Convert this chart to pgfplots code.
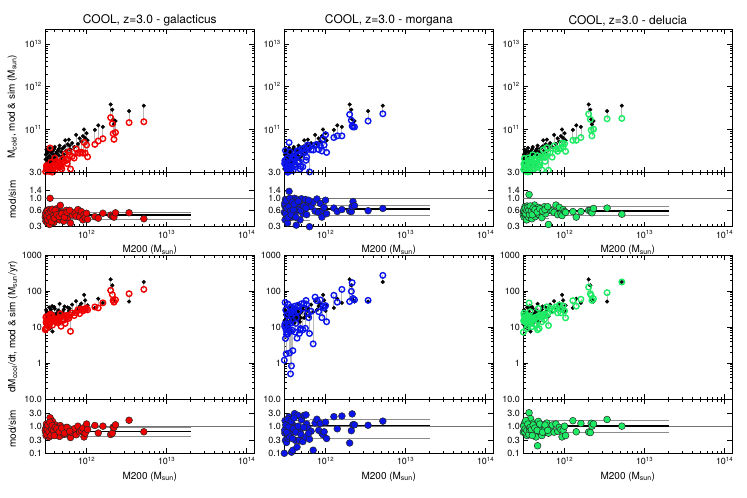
\documentclass[border=0pt]{standalone}
\usepackage{fontspec}
\setmainfont{TeX Gyre Heros}
\usepackage{pgfplots}
\usepackage{pgfplotstable}
\pgfplotsset{compat=1.18}

\definecolor{galred}{RGB}{240,0,0}
\definecolor{morblue}{RGB}{10,20,235}
\definecolor{delgreen}{RGB}{30,235,100}
\definecolor{linkgrey}{RGB}{185,185,185}

% halo table: x = M200, st/sb = simulation (top: cold mass, bottom: cooling rate),
% gt/mt/dt and gb/mb/db = galacticus/morgana/delucia, r.. = mod/sim
\pgfplotstableread{
x st gt mt dt rg rm rd sb gb mb db rgb rmb rdb
3.05e11 1.2e10 0.54e10 0.66e10 0.60e10 0.45 0.55 0.50 12 8.4 1.2 7.2 0.70 0.10 0.60
3.10e11 2.6e10 0.99e10 1.87e10 1.56e10 0.38 0.72 0.60 22 18.7 12.1 24.2 0.85 0.55 1.1
3.12e11 1.6e10 0.88e10 0.64e10 0.72e10 0.55 0.40 0.45 30 13.5 48 21 0.45 1.6 0.70
3.15e11 3.4e10 1.43e10 3.23e10 2.11e10 0.42 0.95 0.62 16 19.2 4.8 14.4 1.2 0.30 0.90
3.20e11 1.9e10 1.14e10 0.95e10 1.33e10 0.60 0.50 0.70 10 9.5 8.5 14 0.95 0.85 1.4
3.25e11 2.2e10 0.77e10 1.32e10 1.06e10 0.35 0.60 0.48 25 13.8 6.3 13.8 0.55 0.25 0.55
3.30e11 1.4e10 0.70e10 1.19e10 0.77e10 0.50 0.85 0.55 18 18 21.6 14.4 1.0 1.2 0.80
3.35e11 2.9e10 1.33e10 1.02e10 1.16e10 0.46 0.35 0.40 14 10.5 6.3 9.1 0.75 0.45 0.65
3.40e11 1.7e10 1.05e10 1.16e10 1.22e10 0.62 0.68 0.72 35 14 12.3 15.8 0.40 0.35 0.45
3.45e11 2.4e10 0.79e10 1.32e10 1.25e10 0.33 0.55 0.52 20 13 15 19 0.65 0.75 0.95
3.50e11 3.7e10 3.7e10 4.96e10 2.15e10 1.00 1.34 0.58 11 22.6 24.2 16.5 2.05 2.2 1.5
3.55e11 2.0e10 0.96e10 1.24e10 0.90e10 0.48 0.62 0.45 27 21.6 1.9 20.3 0.80 0.07 0.75
3.60e11 1.3e10 0.52e10 0.98e10 1.52e10 0.40 0.75 1.17 15 19.5 7.5 46.5 1.3 0.50 3.1
3.70e11 2.7e10 1.40e10 1.22e10 1.57e10 0.52 0.45 0.58 38 20.9 36.1 26.6 0.55 0.95 0.70
3.75e11 3.1e10 1.33e10 1.80e10 1.95e10 0.43 0.58 0.63 7.5 11.3 0.83 14.3 1.5 0.11 1.9
3.80e11 1.8e10 1.04e10 1.62e10 0.90e10 0.58 0.90 0.50 21 14.7 27.3 17.9 0.70 1.3 0.85
3.90e11 2.3e10 0.83e10 1.10e10 0.97e10 0.36 0.48 0.42 17 15.3 2.2 10.2 0.90 0.13 0.60
4.00e11 3.9e10 2.15e10 2.34e10 2.57e10 0.55 0.60 0.66 32 16 24 17.6 0.50 0.75 0.55
4.10e11 2.1e10 0.99e10 2.10e10 1.16e10 0.47 1.00 0.55 13 14.3 37.7 16.9 1.1 2.9 1.3
4.20e11 2.8e10 1.79e10 1.54e10 2.10e10 0.64 0.55 0.75 24 14.4 7.2 12 0.60 0.30 0.50
4.30e11 1.6e10 0.80e10 0.51e10 0.74e10 0.50 0.32 0.46 19 16.2 18.1 18.1 0.85 0.95 0.95
4.40e11 3.3e10 1.39e10 3.14e10 1.98e10 0.42 0.95 0.60 29 13.1 4.9 11.6 0.45 0.17 0.40
4.50e11 2.5e10 1.33e10 1.75e10 1.30e10 0.53 0.70 0.52 16 15.2 40 19.2 0.95 2.5 1.2
4.60e11 4.2e10 1.68e10 2.60e10 2.44e10 0.40 0.62 0.58 44 18.5 27.3 8.4 0.42 0.62 0.19
4.70e11 2.0e10 1.48e10 1.76e10 1.36e10 0.74 0.88 0.68 22 23.1 6.6 33 1.05 0.30 1.5
4.80e11 3.0e10 1.35e10 1.20e10 1.50e10 0.45 0.40 0.50 14 10.5 8.4 9.1 0.75 0.60 0.65
5.00e11 3.6e10 2.02e10 3.53e10 2.23e10 0.56 0.98 0.62 26 15.6 44.2 20.8 0.60 1.7 0.80
5.20e11 2.6e10 0.99e10 1.35e10 1.14e10 0.38 0.52 0.44 31 15.5 8.4 14 0.50 0.27 0.45
5.40e11 5.6e10 2.69e10 3.58e10 3.36e10 0.48 0.64 0.60 18 12.6 45 19.8 0.70 2.5 1.1
5.60e11 3.2e10 1.92e10 3.04e10 2.24e10 0.60 0.95 0.70 23 20.7 9.2 16.1 0.90 0.40 0.70
5.80e11 4.5e10 1.98e10 2.25e10 2.34e10 0.44 0.50 0.52 35 19.3 42 21 0.55 1.2 0.60
6.00e11 5.8e10 3.02e10 4.35e10 3.77e10 0.52 0.75 0.65 28 17.4 23.8 36.4 0.62 0.85 1.3
6.30e11 3.4e10 1.19e10 1.02e10 1.12e10 0.35 0.30 0.33 20 7.6 6.6 11 0.38 0.33 0.55
6.60e11 4.8e10 2.35e10 3.36e10 2.88e10 0.49 0.70 0.60 42 24.4 27.3 33.6 0.58 0.65 0.80
7.00e11 3.9e10 2.15e10 3.32e10 2.26e10 0.55 0.85 0.58 26 20.8 3.4 28.6 0.80 0.13 1.1
7.40e11 7.5e10 3.53e10 4.35e10 4.13e10 0.47 0.58 0.55 52 25 67.6 31.2 0.48 1.3 0.60
7.80e11 4.6e10 2.85e10 4.46e10 3.45e10 0.62 0.97 0.75 30 30 54 36 1.0 1.8 1.2
8.20e11 6.2e10 2.79e10 3.41e10 3.10e10 0.45 0.55 0.50 38 23.6 26.6 24.7 0.62 0.70 0.65
8.60e11 5.2e10 2.96e10 4.16e10 3.54e10 0.57 0.80 0.68 45 31.5 56.3 40.5 0.70 1.25 0.90
9.00e11 7.0e10 2.80e10 3.15e10 3.64e10 0.40 0.45 0.52 33 28.1 18.2 24.8 0.85 0.55 0.75
9.30e11 10.0e10 5.0e10 6.0e10 4.8e10 0.50 0.60 0.48 78 31.2 37.4 31.2 0.40 0.48 0.40
9.60e11 6.4e10 2.82e10 4.35e10 3.97e10 0.44 0.68 0.62 55 30.3 34.1 38.5 0.55 0.62 0.70
1.00e12 8.2e10 4.35e10 7.54e10 4.67e10 0.53 0.92 0.57 28 33.6 39.2 28 1.2 1.4 1.0
1.03e12 5.6e10 2.30e10 2.91e10 3.08e10 0.41 0.52 0.55 40 30 14 18 0.75 0.35 0.45
1.27e12 9.8e10 4.5e10 6.5e10 5.6e10 0.46 0.66 0.57 34 36 76 54 1.06 2.24 1.59
1.40e12 12.5e10 5.4e10 7.1e10 5.6e10 0.43 0.57 0.45 61 34 49 38 0.56 0.80 0.62
1.60e12 11.5e10 6.1e10 7.1e10 6.5e10 0.53 0.62 0.57 47 47 111 59 1.0 2.36 1.26
2.00e12 38.5e10 19e10 22.5e10 23e10 0.49 0.58 0.60 211 104 51 128 0.49 0.24 0.61
2.10e12 29e10 13.7e10 16.4e10 17.3e10 0.47 0.57 0.60 144 79 98 84 0.55 0.68 0.58
2.15e12 17.3e10 8.0e10 12.1e10 9.7e10 0.46 0.70 0.56 60 55 170 76 0.92 2.83 1.27
2.20e12 13.2e10 5.9e10 11.5e10 7.1e10 0.45 0.87 0.54 55 49 62 55 0.89 1.13 1.0
2.30e12 15.8e10 8.5e10 11.5e10 10.2e10 0.54 0.73 0.65 51 57 57 61 1.12 1.12 1.2
3.40e12 27e10 14.5e10 15.8e10 17.8e10 0.54 0.59 0.66 51 84 55 90 1.65 1.08 1.76
5.20e12 36e10 15.2e10 23.3e10 18.2e10 0.42 0.65 0.51 178 111 272 178 0.62 1.53 1.0
3.08e11 2.0e10 1.04e10 1.6e10 1.16e10 0.52 0.80 0.58 15 9.0 10.5 15 0.60 0.70 1.0
3.18e11 2.8e10 1.32e10 1.46e10 1.54e10 0.47 0.52 0.55 27 13.5 29.7 16.7 0.50 1.1 0.62
3.22e11 1.1e10 0.64e10 0.99e10 0.72e10 0.58 0.90 0.65 20 15 1.8 16 0.75 0.09 0.80
3.28e11 3.2e10 1.28e10 2.11e10 1.66e10 0.40 0.66 0.52 12 13.2 7.2 19.2 1.1 0.60 1.6
3.38e11 2.3e10 1.24e10 1.01e10 1.38e10 0.54 0.44 0.60 24 14.9 43.2 16.8 0.62 1.8 0.70
3.48e11 1.5e10 0.66e10 1.05e10 1.02e10 0.44 0.70 0.68 9 12.6 8.6 10.8 1.4 0.95 1.2
3.58e11 3.0e10 1.71e10 3.0e10 1.8e10 0.57 1.00 0.60 31 14 12.4 15.5 0.45 0.40 0.50
3.65e11 2.1e10 0.78e10 1.22e10 1.05e10 0.37 0.58 0.50 19 15.2 0.5 14.3 0.80 0.026 0.75
3.72e11 1.6e10 1.01e10 0.8e10 1.15e10 0.63 0.50 0.72 14 14.7 21 12.6 1.05 1.5 0.90
3.85e11 2.6e10 1.25e10 2.21e10 1.51e10 0.48 0.85 0.58 23 16.1 8.1 17.3 0.70 0.35 0.75
3.95e11 3.5e10 1.5e10 2.17e10 1.75e10 0.43 0.62 0.50 36 16.2 28.8 16.2 0.45 0.80 0.45
4.05e11 1.9e10 1.14e10 1.48e10 1.25e10 0.60 0.78 0.66 16 14.4 32 17.6 0.90 2.0 1.1
4.25e11 3.0e10 1.5e10 1.35e10 1.86e10 0.50 0.45 0.62 21 16.8 12.6 17.9 0.80 0.60 0.85
4.55e11 3.6e10 1.66e10 3.17e10 2.02e10 0.46 0.88 0.56 27 16.7 27 18.9 0.62 1.0 0.70
4.90e11 2.3e10 1.2e10 1.38e10 1.47e10 0.52 0.60 0.64 18 15.3 9 21.6 0.85 0.50 1.2
5.30e11 4.0e10 1.8e10 2.88e10 2.32e10 0.45 0.72 0.58 37 20.4 33.3 22.2 0.55 0.90 0.60
5.70e11 2.9e10 1.6e10 1.91e10 1.8e10 0.55 0.66 0.62 21 18.9 54.6 23.1 0.90 2.6 1.1
6.15e11 4.2e10 2.52e10 3.86e10 2.94e10 0.60 0.92 0.70 33 21.5 18.2 23.1 0.65 0.55 0.70
}\halos

% options shared by all twelve panels
\pgfplotsset{
  scale only axis, width=209bp,
  xmin=3.05e11, xmax=1.25e14,
  xtick={1e12,1e13,1e14},
  minor xtick={4e11,5e11,6e11,7e11,8e11,9e11,2e12,3e12,4e12,5e12,6e12,7e12,8e12,9e12,
               2e13,3e13,4e13,5e13,6e13,7e13,8e13,9e13},
  tick align=inside,
  major tick length=5bp, minor tick length=2.5bp,
  every tick/.append style={black, line width=0.6bp},
  axis line style={black, line width=0.8bp},
  tick label style={font=\fontsize{9}{10}\selectfont},
  label style={font=\fontsize{10}{12}\selectfont},
  title style={font=\fontsize{12}{14}\selectfont, yshift=-6bp},
}

% grey line from the simulated value to the model value of every halo
\newcommand\linksimmod[2]{%
  \pgfplotstablegetrowsof{\halos}%
  \pgfmathtruncatemacro\cpLast{\pgfplotsretval-1}%
  \pgfplotsforeachungrouped \cpRow in {0,...,\cpLast}{%
    \pgfplotstablegetelem{\cpRow}{x}\of\halos \let\cpX\pgfplotsretval
    \pgfplotstablegetelem{\cpRow}{#1}\of\halos \let\cpS\pgfplotsretval
    \pgfplotstablegetelem{\cpRow}{#2}\of\halos \let\cpM\pgfplotsretval
    \edef\cpCmd{\noexpand\addplot[linkgrey, line width=0.8bp] coordinates {(\cpX,\cpS) (\cpX,\cpM)};}%
    \cpCmd
  }%
}
% unity line, median (thick) and percentile lines in two mass bins
\newcommand\binlines[6]{%
  \addplot[black!55, line width=0.7bp] coordinates {(3.05e11,1) (1.25e14,1)};
  \addplot[black!45, line width=0.8bp] coordinates {(3.05e11,#2) (6.3e11,#2)};
  \addplot[black!45, line width=0.8bp] coordinates {(3.05e11,#3) (6.3e11,#3)};
  \addplot[black!45, line width=0.8bp] coordinates {(6.3e11,#5) (2e13,#5)};
  \addplot[black!45, line width=0.8bp] coordinates {(6.3e11,#6) (2e13,#6)};
  \addplot[black, line width=1.6bp] coordinates {(3.05e11,#1) (6.3e11,#1)};
  \addplot[black, line width=1.6bp] coordinates {(6.3e11,#4) (2e13,#4)};
}
\newcommand\simdots[1]{\addplot[only marks, mark=*, mark size=1.9bp, mark options={fill=black, draw=black, line width=0.3bp}] table[x=x, y=#1]{\halos};}
\newcommand\modrings[2]{\addplot[only marks, mark=o, mark size=2.8bp, mark options={draw=#2, line width=1.4bp}] table[x=x, y=#1]{\halos};}
\newcommand\ratiodots[2]{\addplot[only marks, mark=*, mark size=3.4bp, mark options={fill=#2, draw=black!85, line width=0.5bp}] table[x=x, y=#1]{\halos};}

\begin{document}
\begin{tikzpicture}
\path[use as bounding box] (0,0) rectangle (747bp,-498bp);

% ---------------- top row: cold gas mass ----------------
\begin{axis}[at={(45.3bp,-29.3bp)}, anchor=north west, height=143bp, xmode=log,
  ymode=log, ymin=1e10, ymax=2.2e13, ytick={1e11,1e12,1e13},
  yticklabels={10\textsuperscript{11},10\textsuperscript{12},10\textsuperscript{13}},
  minor ytick={2e10,3e10,4e10,5e10,6e10,7e10,8e10,9e10,2e11,3e11,4e11,5e11,6e11,7e11,8e11,9e11,2e12,3e12,4e12,5e12,6e12,7e12,8e12,9e12,2e13},
  xticklabels={}, title={COOL, z=3.0 - galacticus},
  ylabel={M\textsubscript{cold}, mod \& sim (M\textsubscript{sun})},
  ylabel style={at={(axis description cs:-0.158,0.46)}, anchor=center}]
  \linksimmod{st}{gt}
  \simdots{st}
  \modrings{gt}{galred}
\end{axis}
\begin{axis}[at={(284.3bp,-29.3bp)}, anchor=north west, height=143bp, xmode=log,
  ymode=log, ymin=1e10, ymax=2.2e13, ytick={1e11,1e12,1e13},
  yticklabels={10\textsuperscript{11},10\textsuperscript{12},10\textsuperscript{13}},
  minor ytick={2e10,3e10,4e10,5e10,6e10,7e10,8e10,9e10,2e11,3e11,4e11,5e11,6e11,7e11,8e11,9e11,2e12,3e12,4e12,5e12,6e12,7e12,8e12,9e12,2e13},
  xticklabels={}, title={COOL, z=3.0 - morgana}]
  \linksimmod{st}{mt}
  \simdots{st}
  \modrings{mt}{morblue}
\end{axis}
\begin{axis}[at={(523.3bp,-29.3bp)}, anchor=north west, height=143bp, xmode=log,
  ymode=log, ymin=1e10, ymax=2.2e13, ytick={1e11,1e12,1e13},
  yticklabels={10\textsuperscript{11},10\textsuperscript{12},10\textsuperscript{13}},
  minor ytick={2e10,3e10,4e10,5e10,6e10,7e10,8e10,9e10,2e11,3e11,4e11,5e11,6e11,7e11,8e11,9e11,2e12,3e12,4e12,5e12,6e12,7e12,8e12,9e12,2e13},
  xticklabels={}, title={COOL, z=3.0 - delucia}]
  \linksimmod{st}{dt}
  \simdots{st}
  \modrings{dt}{delgreen}
\end{axis}

\begin{axis}[at={(45.3bp,-172.3bp)}, anchor=north west, height=54.4bp, xmode=log,
  ymode=log, ymin=0.3, ymax=3, ytick={0.3,0.6,1,1.4,3}, yticklabels={0.3,0.6,1.0,1.4,3.0},
  xticklabels={10\textsuperscript{12},10\textsuperscript{13},10\textsuperscript{14}},
  xlabel={M200 (M\textsubscript{sun})}, ylabel={mod/sim},
  ylabel style={at={(axis description cs:-0.158,0.5)}, anchor=center}]
  \ratiodots{rg}{galred}
  \binlines{0.51}{0.39}{0.63}{0.49}{0.41}{0.55}
\end{axis}
\begin{axis}[at={(284.3bp,-172.3bp)}, anchor=north west, height=54.4bp, xmode=log,
  ymode=log, ymin=0.3, ymax=3, ytick={0.3,0.6,1,1.4,3}, yticklabels={0.3,0.6,1.0,1.4,3.0},
  xticklabels={10\textsuperscript{12},10\textsuperscript{13},10\textsuperscript{14}},
  xlabel={M200 (M\textsubscript{sun})}]
  \ratiodots{rm}{morblue}
  \binlines{0.62}{0.40}{0.85}{0.64}{0.48}{0.75}
\end{axis}
\begin{axis}[at={(523.3bp,-172.3bp)}, anchor=north west, height=54.4bp, xmode=log,
  ymode=log, ymin=0.3, ymax=3, ytick={0.3,0.6,1,1.4,3}, yticklabels={0.3,0.6,1.0,1.4,3.0},
  xticklabels={10\textsuperscript{12},10\textsuperscript{13},10\textsuperscript{14}},
  xlabel={M200 (M\textsubscript{sun})}]
  \ratiodots{rd}{delgreen}
  \binlines{0.58}{0.42}{0.72}{0.59}{0.49}{0.71}
\end{axis}

% ---------------- bottom row: cooling rate ----------------
\begin{axis}[at={(45.3bp,-255bp)}, anchor=north west, height=144bp, xmode=log,
  ymode=log, ymin=0.1, ymax=1000, ytick={1,10,100,1000}, yticklabels={1,10,100,1000},
  minor ytick={0.2,0.3,0.4,0.5,0.6,0.7,0.8,0.9,2,3,4,5,6,7,8,9,20,30,40,50,60,70,80,90,200,300,400,500,600,700,800,900},
  xticklabels={},
  ylabel={dM\textsubscript{cool}/dt, mod \& sim (M\textsubscript{sun}/yr)},
  ylabel style={at={(axis description cs:-0.155,0.5)}, anchor=center}]
  \linksimmod{sb}{gb}
  \simdots{sb}
  \modrings{gb}{galred}
\end{axis}
\begin{axis}[at={(284.3bp,-255bp)}, anchor=north west, height=144bp, xmode=log,
  ymode=log, ymin=0.1, ymax=1000, ytick={1,10,100,1000}, yticklabels={1,10,100,1000},
  minor ytick={0.2,0.3,0.4,0.5,0.6,0.7,0.8,0.9,2,3,4,5,6,7,8,9,20,30,40,50,60,70,80,90,200,300,400,500,600,700,800,900},
  xticklabels={}]
  \linksimmod{sb}{mb}
  \simdots{sb}
  \modrings{mb}{morblue}
\end{axis}
\begin{axis}[at={(523.3bp,-255bp)}, anchor=north west, height=144bp, xmode=log,
  ymode=log, ymin=0.1, ymax=1000, ytick={1,10,100,1000}, yticklabels={1,10,100,1000},
  minor ytick={0.2,0.3,0.4,0.5,0.6,0.7,0.8,0.9,2,3,4,5,6,7,8,9,20,30,40,50,60,70,80,90,200,300,400,500,600,700,800,900},
  xticklabels={}]
  \linksimmod{sb}{db}
  \simdots{sb}
  \modrings{db}{delgreen}
\end{axis}

\begin{axis}[at={(45.3bp,-399bp)}, anchor=north west, height=54.3bp, xmode=log,
  ymode=log, ymin=0.1, ymax=10, ytick={0.1,0.3,1,3,10}, yticklabels={0.1,0.3,1.0,3.0,10.0},
  xticklabels={10\textsuperscript{12},10\textsuperscript{13},10\textsuperscript{14}},
  xlabel={M200 (M\textsubscript{sun})}, ylabel={mod/sim},
  ylabel style={at={(axis description cs:-0.158,0.45)}, anchor=center}]
  \ratiodots{rgb}{galred}
  \binlines{0.66}{0.40}{1.05}{0.63}{0.43}{0.88}
\end{axis}
\begin{axis}[at={(284.3bp,-399bp)}, anchor=north west, height=54.3bp, xmode=log,
  ymode=log, ymin=0.1, ymax=10, ytick={0.1,0.3,1,3,10}, yticklabels={0.1,0.3,1.0,3.0,10.0},
  xticklabels={10\textsuperscript{12},10\textsuperscript{13},10\textsuperscript{14}},
  xlabel={M200 (M\textsubscript{sun})}]
  \ratiodots{rmb}{morblue}
  \binlines{0.85}{0.30}{1.6}{1.07}{0.36}{1.83}
\end{axis}
\begin{axis}[at={(523.3bp,-399bp)}, anchor=north west, height=54.3bp, xmode=log,
  ymode=log, ymin=0.1, ymax=10, ytick={0.1,0.3,1,3,10}, yticklabels={0.1,0.3,1.0,3.0,10.0},
  xticklabels={10\textsuperscript{12},10\textsuperscript{13},10\textsuperscript{14}},
  xlabel={M200 (M\textsubscript{sun})}]
  \ratiodots{rdb}{delgreen}
  \binlines{0.85}{0.45}{1.5}{1.0}{0.59}{1.59}
\end{axis}
\end{tikzpicture}
\end{document}
